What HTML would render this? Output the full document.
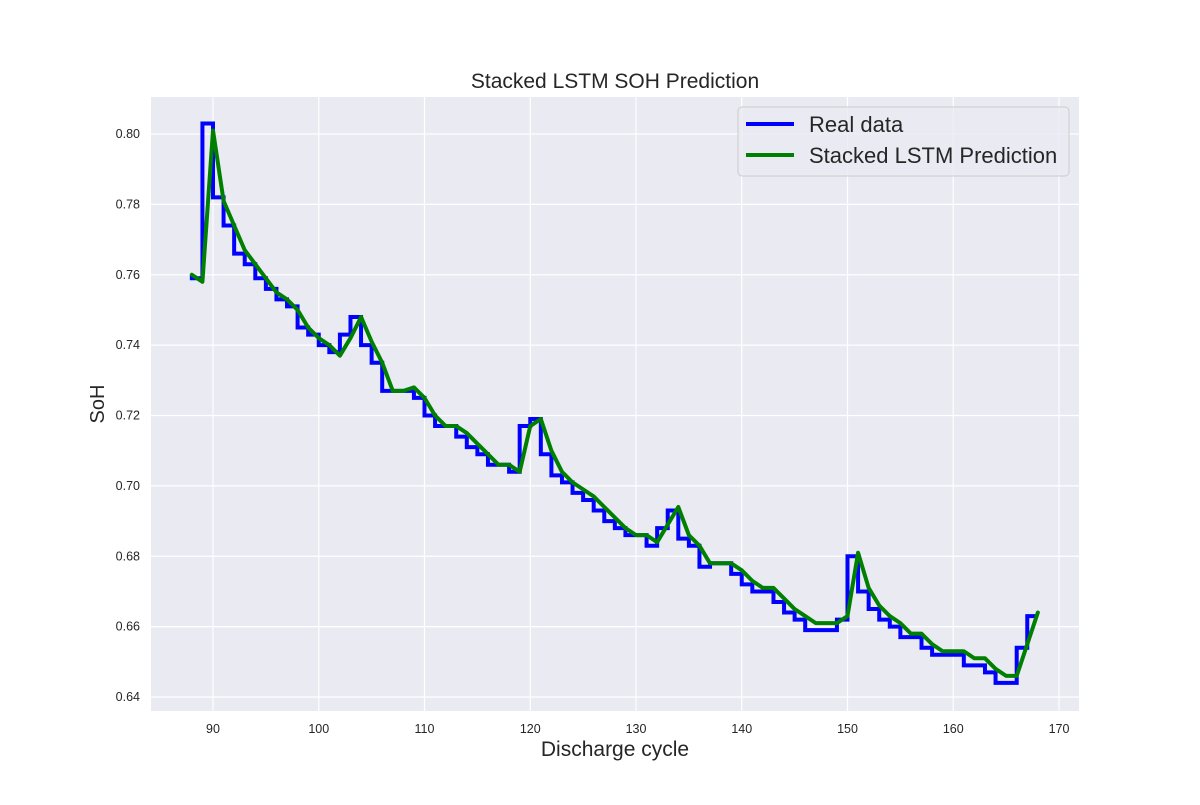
<!DOCTYPE html>
<html><head><meta charset="utf-8"><style>
body{margin:0;background:#fff;}
svg text{font-family:"Liberation Sans",sans-serif;fill:#262626;}
</style></head><body>
<svg id="chart" width="1200" height="800">
<rect x="0" y="0" width="1200" height="800" fill="#fff"/>
<rect x="151" y="97" width="928" height="614" fill="#eaeaf2"/>
<g id="grid"></g><g id="ticks"></g><g id="series"></g>
<text x="615" y="88" text-anchor="middle" font-size="21">Stacked LSTM SOH Prediction</text>
<text x="615" y="756" text-anchor="middle" font-size="21">Discharge cycle</text>
<text x="104" y="404" text-anchor="middle" font-size="20" transform="rotate(-90 104 404)">SoH</text>
<g>
<rect x="738" y="107" width="331" height="69" rx="4" fill="#eaeaf2" stroke="#ccc" fill-opacity="0.8"/>
<line x1="746" y1="124" x2="794" y2="124" stroke="#0000ff" stroke-width="4"/>
<text x="809" y="132" font-size="22">Real data</text>
<line x1="746" y1="155" x2="794" y2="155" stroke="#008000" stroke-width="4"/>
<text x="809" y="163" font-size="22">Stacked LSTM Prediction</text>
</g>
</svg>
<script>
const cycles=[];for(let c=88;c<=168;c++)cycles.push(c);
const realData=[0.760,0.759,0.803,0.782,0.774,0.766,0.763,0.759,0.756,0.753,0.751,0.745,0.743,0.740,0.738,0.743,0.748,0.740,0.735,0.727,0.727,0.727,0.725,0.720,0.717,0.717,0.714,0.711,0.709,0.706,0.706,0.704,0.717,0.719,0.709,0.703,0.701,0.698,0.696,0.693,0.690,0.688,0.686,0.686,0.683,0.688,0.693,0.685,0.683,0.677,0.678,0.678,0.675,0.672,0.670,0.670,0.667,0.664,0.662,0.659,0.659,0.659,0.662,0.680,0.670,0.665,0.662,0.660,0.657,0.657,0.654,0.652,0.652,0.652,0.649,0.649,0.647,0.644,0.644,0.654,0.663];
const predData=[0.760,0.758,0.801,0.781,0.774,0.767,0.763,0.759,0.755,0.753,0.750,0.745,0.742,0.740,0.737,0.742,0.748,0.741,0.735,0.727,0.727,0.728,0.725,0.720,0.717,0.717,0.715,0.712,0.709,0.706,0.706,0.704,0.717,0.719,0.710,0.704,0.701,0.699,0.697,0.694,0.691,0.688,0.686,0.686,0.684,0.689,0.694,0.686,0.683,0.678,0.678,0.678,0.676,0.673,0.671,0.671,0.668,0.665,0.663,0.661,0.661,0.661,0.663,0.681,0.671,0.666,0.663,0.661,0.658,0.658,0.655,0.653,0.653,0.653,0.651,0.651,0.648,0.646,0.646,0.655,0.664];
const xTicks=[90,100,110,120,130,140,150,160,170];
const yTicks=[0.64,0.66,0.68,0.70,0.72,0.74,0.76,0.78,0.80];
const NS='http://www.w3.org/2000/svg';
const X=v=>213+(v-90)*10.575;
const Y=v=>134+(0.80-v)*3518.75;
const grid=document.getElementById('grid'),ticks=document.getElementById('ticks'),series=document.getElementById('series');
function mk(tag,attrs,parent){const e=document.createElementNS(NS,tag);for(const k in attrs)e.setAttribute(k,attrs[k]);parent.appendChild(e);return e;}
xTicks.forEach(t=>{
 const l=mk('line',{x1:X(t),x2:X(t),y1:97,y2:711,stroke:'#fff','stroke-width':1.2},grid);
 
 
 const tx=mk('text',{x:X(t),y:733,'text-anchor':'middle','font-size':12.5},ticks);
 tx.textContent=t;
 
 
});
yTicks.forEach(t=>{
 const l=mk('line',{x1:151,x2:1079,y1:Y(t),y2:Y(t),stroke:'#fff','stroke-width':1.2},grid);
 
 
 const tx=mk('text',{x:140,y:Y(t)+4,'text-anchor':'end','font-size':12.5},ticks);
 tx.textContent=t.toFixed(2);
 
 
});
let d='M'+X(cycles[0])+','+Y(realData[0]);
for(let i=1;i<cycles.length;i++){d+=' L'+X(cycles[i-1])+','+Y(realData[i])+' L'+X(cycles[i])+','+Y(realData[i]);}
const rl=mk('path',{d:d,fill:'none',stroke:'#0000ff','stroke-width':4,'stroke-linejoin':'miter'},series);


const pd=cycles.map((c,i)=>(i?'L':'M')+X(c)+','+Y(predData[i])).join(' ');
const pl=mk('path',{d:pd,fill:'none',stroke:'#008000','stroke-width':4,'stroke-linejoin':'round','stroke-linecap':'round'},series);


</script>
</body></html>
